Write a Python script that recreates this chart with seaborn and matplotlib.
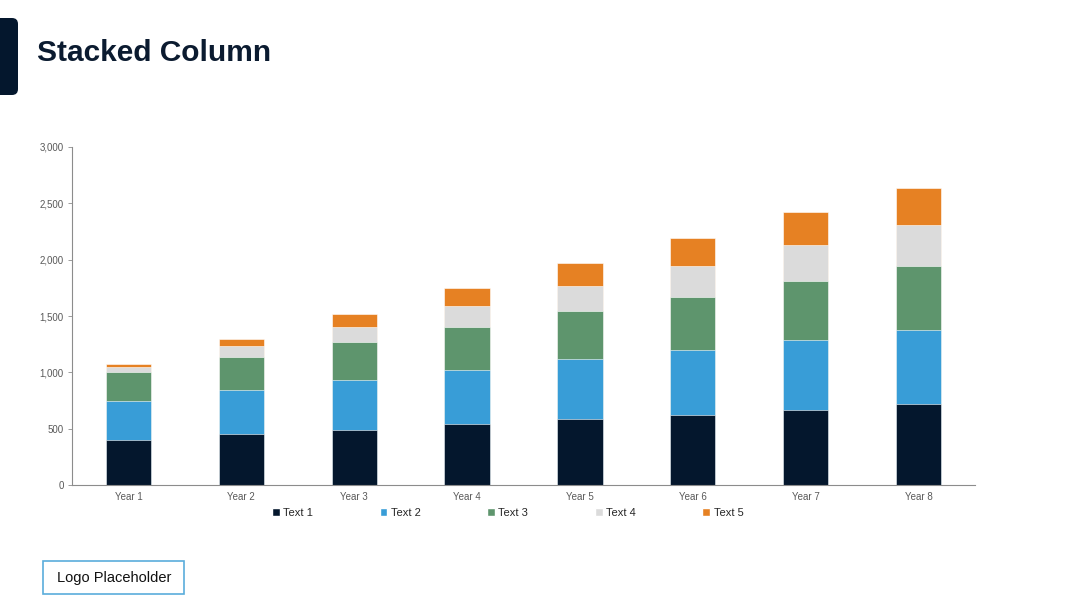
import pandas as pd
import numpy as np
import matplotlib.pyplot as plt
import seaborn as sns
from matplotlib.patches import FancyBboxPatch, Rectangle

# Chart data
years = ['Year 1', 'Year 2', 'Year 3', 'Year 4', 'Year 5', 'Year 6', 'Year 7', 'Year 8']
text1 = [400, 450, 490, 540, 585, 625, 670, 715]
text2 = [350, 395, 440, 480, 530, 570, 620, 660]
text3 = [250, 290, 335, 385, 425, 475, 520, 565]
text4 = [45, 95, 140, 185, 230, 275, 320, 365]
text5 = [25, 65, 110, 155, 200, 245, 290, 335]
series_names = ['Text 1', 'Text 2', 'Text 3', 'Text 4', 'Text 5']
colors = ['#04172D', '#389DD7', '#5E956D', '#DBDBDB', '#E68123']

sns.set_style('white')
plt.rcParams['font.family'] = ['Liberation Sans', 'DejaVu Sans']

df = pd.DataFrame({'Year': years, 'Text 1': text1, 'Text 2': text2,
                   'Text 3': text3, 'Text 4': text4, 'Text 5': text5})
# cumulative totals so each layer sits on the one below
cum = df[series_names].cumsum(axis=1)

fig = plt.figure(figsize=(10.8, 6.08), dpi=100)
ax = fig.add_axes([72 / 1080, 1 - 485 / 608, 903 / 1080, 338 / 608])

# Draw from the top layer down
handles = {}
for name, color in reversed(list(zip(series_names, colors))):
    sns.barplot(x=df['Year'], y=cum[name], color=color, width=0.4, ax=ax,
                edgecolor='white', linewidth=0.4, saturation=1)
    handles[name] = Rectangle((0, 0), 1, 1, facecolor=color)

ax.set_xlim(-0.5, 7.5)
ax.set_ylim(0, 3000)
ax.set_yticks(np.arange(0, 3001, 500))
ax.set_yticklabels([f'{v:,}' for v in range(0, 3001, 500)])
ax.set_xlabel('')
ax.set_ylabel('')
sns.despine(ax=ax)
for side in ['left', 'bottom']:
    ax.spines[side].set_color('#8C8C8C')
    ax.spines[side].set_linewidth(0.8)
ax.tick_params(axis='y', labelsize=7, colors='#595959', length=3, width=0.6,
               left=True, color='#8C8C8C', pad=3)
ax.tick_params(axis='x', labelsize=7, colors='#595959', length=0, pad=5)

fig.legend([handles[n] for n in series_names], series_names, loc='center',
           bbox_to_anchor=(0.47, 1 - 513 / 608), ncol=5, frameon=False,
           fontsize=8, handlelength=0.7, handleheight=0.7, handletextpad=0.3,
           columnspacing=6.0)

# Title and decorations
fig.patches.append(FancyBboxPatch((-10, 608 - 95), 28, 77, boxstyle='round,pad=0,rounding_size=6',
                                  transform=None, facecolor='#04172D', edgecolor='none'))
fig.text(37 / 1080, 1 - 53 / 608, 'Stacked Column', fontsize=21.5, fontweight='bold',
         color='#0B1B30', va='center', ha='left')

fig.patches.append(Rectangle((43, 608 - 594), 141, 33, transform=None,
                             facecolor='white', edgecolor='#5AADDB', linewidth=1.2))
fig.text(114.5 / 1080, 1 - 578 / 608, 'Logo Placeholder', fontsize=10.5,
         color='#111111', ha='center', va='center')

plt.savefig('out.png', dpi=100)
